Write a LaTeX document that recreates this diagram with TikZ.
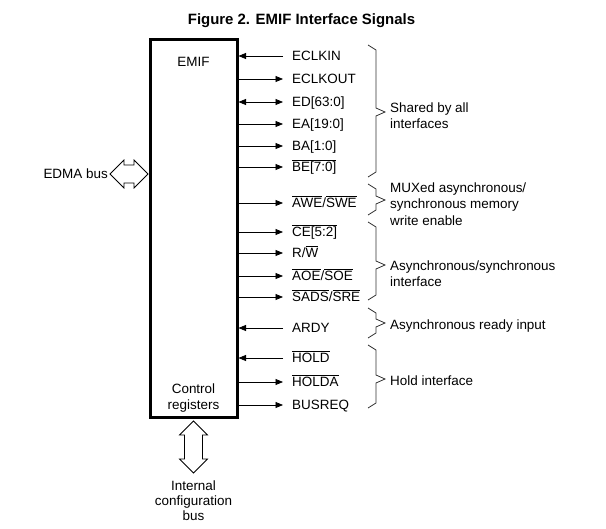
\documentclass[tikz,border=0pt]{standalone}
\usepackage{fontspec}
\setmainfont{Liberation Sans}
\usetikzlibrary{arrows.meta}
\newcommand\ovl[1]{\mbox{\sbox0{#1}\rlap{\rule[11bp]{\wd0}{0.8bp}}\usebox0}}
\newcommand\brc[3]{%
  \draw[bracestyle] (368,#1) -- (376,#1+5) -- (376,#3-4) -- (385,#3) -- (376,#3+4) -- (376,#2-5) -- (368,#2);}
\begin{document}
\begin{tikzpicture}[x=1bp,y=-1bp,
  lbl/.style={font=\fontsize{13.5}{16.5}\selectfont, inner sep=0pt},
  sig/.style={lbl, anchor=west, inner xsep=9bp, inner ysep=0pt, text height=9.6bp, text depth=0pt},
  grp/.style={lbl, anchor=north west, align=left},
  outarr/.style={-{Triangle[length=7.5bp,width=6bp]}, line width=0.8bp},
  inarr/.style={-{Triangle[length=7.5bp,width=6bp]}, line width=0.8bp, shorten >=1.5bp},
  bidarr/.style={{Triangle[length=7.5bp,width=6bp]}-{Triangle[length=7.5bp,width=6bp]}, line width=0.8bp, shorten <=1.5bp},
  bracestyle/.style={line width=0.8bp, black!80},
  hollow/.style={draw, line width=0.8bp, fill=white},
]
\useasboundingbox (0,0) rectangle (606,529);

% title
\node[font=\bfseries\fontsize{15}{18}\selectfont, inner sep=0pt, text height=10.7bp, text depth=0pt] (title) at (301.5,19) {Figure 2. EMIF Interface Signals};

% main box
\node[draw, line width=3bp, minimum width=87bp, minimum height=377bp, inner sep=0pt, outer sep=0pt, anchor=north west] (emif) at (150,40) {};
\node[lbl, anchor=north, align=center] (emiflbl) at (193.5,57.2) {EMIF};
\node[lbl, anchor=north, align=center] (ctrl) at (193.5,383.2) {Control\\registers};

% signals
\node[sig] (s1) at (283,56) {ECLKIN};
\node[sig] (s2) at (283,79) {ECLKOUT};
\node[sig] (s3) at (283,102) {ED[63:0]};
\node[sig] (s4) at (283,124) {EA[19:0]};
\node[sig] (s5) at (283,146) {BA[1:0]};
\node[sig] (s6) at (283,167) {\ovl{BE[7:0]}};
\node[sig] (s7) at (283,203) {\ovl{AWE}/\ovl{SWE}};
\node[sig] (s8) at (283,232) {\ovl{CE[5:2]}};
\node[sig] (s9) at (283,253) {R/\ovl{W}};
\node[sig] (s10) at (283,276) {\ovl{AOE}/\ovl{SOE}};
\node[sig] (s11) at (283,297) {\ovl{SADS}/\ovl{SRE}};
\node[sig] (s12) at (283,328) {ARDY};
\node[sig] (s13) at (283,358) {\ovl{HOLD}};
\node[sig] (s14) at (283,382) {\ovl{HOLDA}};
\node[sig] (s15) at (283,405) {BUSREQ};

\draw[inarr] (s1.west) -- (emif.east |- s1.west);
\draw[outarr] (emif.east |- s2.west) -- (s2.west);
\draw[bidarr] (emif.east |- s3.west) -- (s3.west);
\foreach \s in {s4,s5,s6,s7,s8,s9,s10,s11,s14,s15}
  \draw[outarr] (emif.east |- \s.west) -- (\s.west);
\draw[inarr] (s12.west) -- (emif.east |- s12.west);
\draw[inarr] (s13.west) -- (emif.east |- s13.west);

% braces
\brc{45}{177}{112}
\brc{184}{215}{200}
\brc{222}{300}{265}
\brc{308}{338}{323}
\brc{345}{408}{379}

\node[grp] (g1) at (390,102.2) {Shared by all\\interfaces};
\node[grp] (g2) at (390,182.2) {MUXed asynchronous/\\synchronous memory\\write enable};
\node[grp] (g3) at (390,260.2) {Asynchronous/synchronous\\interface};
\node[grp] (g4) at (390,319.2) {Asynchronous ready input};
\node[grp] (g5) at (390,375.2) {Hold interface};

% EDMA bus
\node[lbl, anchor=east, text height=9.6bp, text depth=0pt] (edma) at (108,174) {EDMA bus};
\draw[hollow] (110,174) -- (124,160) -- (124,165) -- (134,165) -- (134,160) -- (148,174)
  -- (134,188) -- (134,183) -- (124,183) -- (124,188) -- cycle;

% internal configuration bus
\draw[hollow] (193.5,421) -- (207.5,435) -- (202.5,435) -- (202.5,459) -- (207.5,459) -- (193.5,473)
  -- (179.5,459) -- (184.5,459) -- (184.5,435) -- (179.5,435) -- cycle;
\node[lbl, anchor=north, align=center, font=\fontsize{13.5}{15.2}\selectfont] (icb) at (193.5,480.2) {Internal\\configuration\\bus};
\end{tikzpicture}
\end{document}
